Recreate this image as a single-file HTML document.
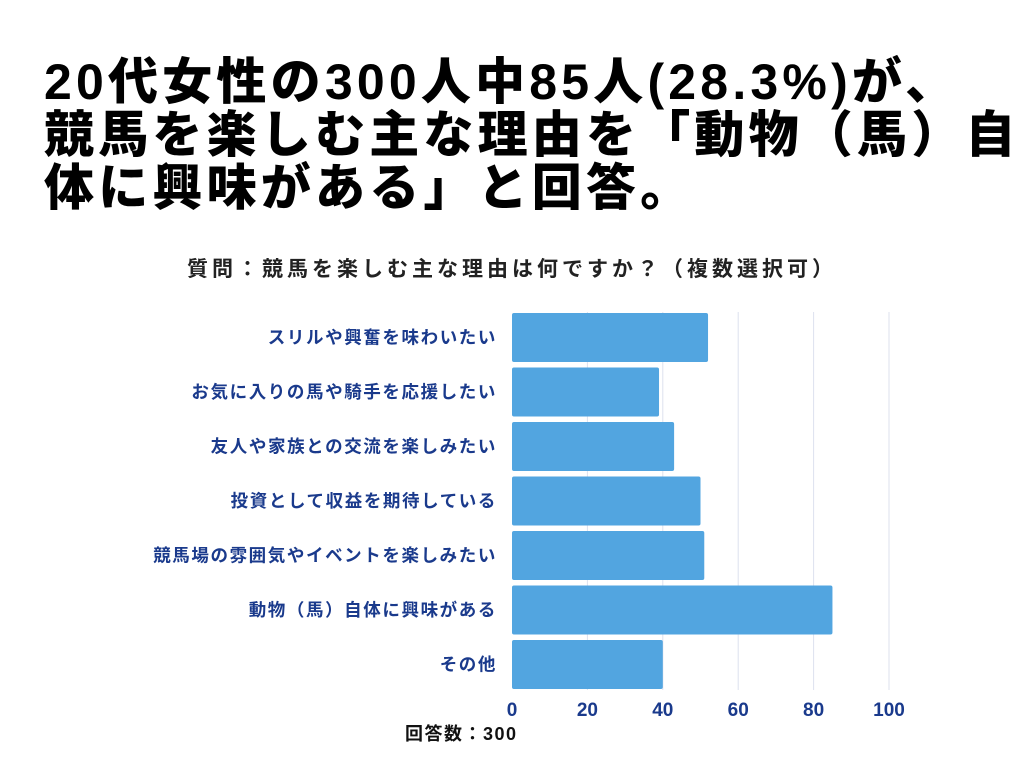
<!DOCTYPE html>
<html><head><meta charset="utf-8"><style>
body{margin:0;width:1024px;height:768px;background:#fff;overflow:hidden;font-family:"Liberation Sans","Noto Sans CJK JP",sans-serif;}
#title{position:absolute;left:44px;top:56px;font-size:50px;font-weight:900;line-height:53px;color:#000;letter-spacing:4.2px;white-space:nowrap;}
#sub{position:absolute;left:0;width:1024px;top:253px;text-align:center;font-size:21px;font-weight:700;color:#222;letter-spacing:4px;}
</style></head><body>
<div id="title">20代女性の300人中85人(28.3%)が、<br>競馬を楽しむ主な理由を「動物（馬）自<br>体に興味がある」と回答。</div>
<div id="sub">質問：競馬を楽しむ主な理由は何ですか？（複数選択可）</div>
<svg id="chart" width="1024" height="768" style="position:absolute;left:0;top:0"></svg>
<script>
const categories=["スリルや興奮を味わいたい","お気に入りの馬や騎手を応援したい","友人や家族との交流を楽しみたい","投資として収益を期待している","競馬場の雰囲気やイベントを楽しみたい","動物（馬）自体に興味がある","その他"];
const values=[52,39,43,50,51,85,40];
const ticks=[0,20,40,60,80,100];
const svg=document.getElementById('chart');
const NS='http://www.w3.org/2000/svg';
const x=v=>512+v*3.77;
const top0=313,pitch=54.5,bh=49;
const y=i=>top0+i*pitch;
function mk(t,a){const e=document.createElementNS(NS,t);for(const k in a)e.setAttribute(k,a[k]);svg.appendChild(e);return e;}
ticks.forEach(t=>{
 if(t>0){const l=mk('line',{x1:x(t),x2:x(t),y1:312,y2:690,stroke:'#dde1ee','stroke-width':1});
 
 }
 const tx=mk('text',{x:x(t),y:716,'text-anchor':'middle','font-size':19,'font-weight':700,fill:'#1a3a8c'});
 tx.textContent=t;
 
 
});
categories.forEach((c,i)=>{
 const r=mk('rect',{x:512,y:y(i),width:x(values[i])-512,height:bh,rx:2,fill:'#52a5e0'});
 
 
 const t=mk('text',{x:497,y:y(i)+bh/2+6,'text-anchor':'end','font-size':17.5,'font-weight':700,fill:'#1a3a8c','letter-spacing':1.6});
 t.textContent=c;
 
 
});
const n=mk('text',{x:405,y:740,'font-size':18,'font-weight':700,fill:'#111','letter-spacing':1.5});
n.textContent='回答数：300';


</script>
</body></html>
